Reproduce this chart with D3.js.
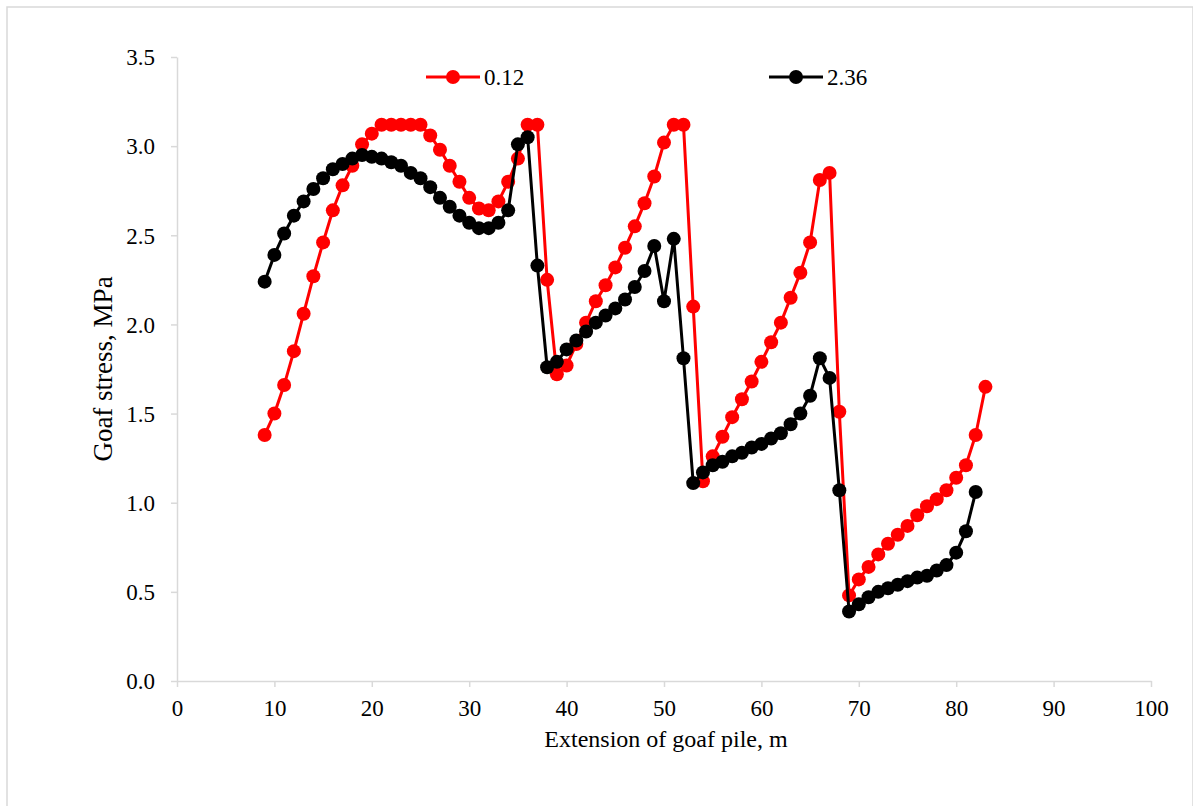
<!DOCTYPE html>
<html>
<head>
<meta charset="utf-8">
<script src="https://cdn.jsdelivr.net/npm/d3@7"></script>
<style>
  body { margin: 0; background: #fff; }
  svg { display: block; font-family: "Liberation Serif", "Times New Roman", serif; }
  .axis path, .axis line { stroke: #d9d9d9; stroke-width: 1.5; }
</style>
</head>
<body>
<svg id="chart" width="1193" height="806"></svg>
<script>
'use strict';

// Extension of goaf pile (m)
const xRed = d3.range(9, 84);
const xBlack = d3.range(9, 83);

// Goaf stress (MPa) for series "0.12", x = 9..83
const red = [
  1.38, 1.50, 1.66, 1.85, 2.06, 2.27, 2.46, 2.64, 2.78, 2.89,
  3.01, 3.07, 3.12, 3.12, 3.12, 3.12, 3.12, 3.06, 2.98, 2.89,
  2.80, 2.71, 2.65, 2.64, 2.69, 2.80, 2.93, 3.12, 3.12, 2.25,
  1.72, 1.77, 1.89, 2.01, 2.13, 2.22, 2.32, 2.43, 2.55, 2.68,
  2.83, 3.02, 3.12, 3.12, 2.10, 1.12, 1.26, 1.37, 1.48, 1.58,
  1.68, 1.79, 1.90, 2.01, 2.15, 2.29, 2.46, 2.81, 2.85, 1.51,
  0.48, 0.57, 0.64, 0.71, 0.77, 0.82, 0.87, 0.93, 0.98, 1.02,
  1.07, 1.14, 1.21, 1.38, 1.65
];

// Goaf stress (MPa) for series "2.36", x = 9..82
const black = [
  2.24, 2.39, 2.51, 2.61, 2.69, 2.76, 2.82, 2.87, 2.90, 2.93,
  2.95, 2.94, 2.93, 2.91, 2.89, 2.85, 2.82, 2.77, 2.71, 2.66,
  2.61, 2.57, 2.54, 2.54, 2.57, 2.64, 3.01, 3.05, 2.33, 1.76,
  1.79, 1.86, 1.91, 1.96, 2.01, 2.05, 2.09, 2.14, 2.21, 2.30,
  2.44, 2.13, 2.48, 1.81, 1.11, 1.17, 1.21, 1.23, 1.26, 1.28,
  1.31, 1.33, 1.36, 1.39, 1.44, 1.50, 1.60, 1.81, 1.70, 1.07,
  0.39, 0.43, 0.47, 0.50, 0.52, 0.54, 0.56, 0.58, 0.59, 0.62,
  0.65, 0.72, 0.84, 1.06
];

const seriesNames = ['0.12', '2.36'];
const seriesColors = ['#ff0000', '#000000'];
const xTicks = d3.range(0, 101, 10);
const yTicks = d3.range(0, 3.51, 0.5);

const serif = '"Liberation Serif", "Times New Roman", serif';
const svg = d3.select('#chart');

// outer frame
svg.append('rect')
    .attr('x', 7).attr('y', 7)
    .attr('width', 1186).attr('height', 812)
    .attr('fill', 'none')
    .attr('stroke', '#d9d9d9')
    .attr('stroke-width', 1.5);

var margin = {top: 57, right: 42, bottom: 125, left: 177},
    width = 1193 - margin.left - margin.right,
    height = 806 - margin.top - margin.bottom;

var x = d3.scaleLinear().domain([0, 100]).range([0, width]);
var y = d3.scaleLinear().domain([0, 3.5]).range([height, 0]);

var chart = svg.append('g')
    .attr('transform', 'translate(' + margin.left + ',' + margin.top + ')');

// X Axis
chart.append('g')
    .attr('class', 'x axis')
    .attr('transform', 'translate(0,' + height + ')')
    .call(d3.axisBottom(x).tickValues(xTicks).tickSize(6).tickSizeOuter(0).tickPadding(13))
    .attr('font-family', serif)
    .attr('font-size', 23)
    .selectAll('text')
        .attr('dy', '0.71em')
        .style('font-family', serif)
        .style('font-size', '23px')
        .attr('fill', '#000');

// Y Axis
chart.append('g')
    .attr('class', 'y axis')
    .call(d3.axisLeft(y).tickValues(yTicks).tickFormat(d3.format('.1f')).tickSize(6).tickSizeOuter(0).tickPadding(16))
    .attr('font-family', serif)
    .attr('font-size', 23)
    .selectAll('text')
        .attr('dy', '0.34em')
        .style('font-family', serif)
        .style('font-size', '23px')
        .attr('fill', '#000');

// Axis titles
chart.append('text')
    .attr('x', 489)
    .attr('y', height + 66)
    .attr('text-anchor', 'middle')
    .style('font-size', '24px')
    .text('Extension of goaf pile, m');

chart.append('text')
    .attr('transform', 'translate(-65,' + (height / 2) + ') rotate(-90)')
    .attr('text-anchor', 'middle')
    .style('font-size', '27px')
    .text('Goaf stress, MPa');

// Series
const series = [
    {xs: xRed, ys: red},
    {xs: xBlack, ys: black}
];

var line = d3.line()
    .x(function(d) { return x(d[0]); })
    .y(function(d) { return y(d[1]); });

series.forEach(function(s, i) {
    const pts = s.xs.map(function(v, j) { return [v, s.ys[j]]; });
    const g = chart.append('g');
    g.append('path')
        .datum(pts)
        .attr('fill', 'none')
        .attr('stroke', seriesColors[i])
        .attr('stroke-width', 3)
        .attr('d', line);
    g.selectAll('circle')
        .data(pts)
        .enter().append('circle')
        .attr('cx', function(d) { return x(d[0]); })
        .attr('cy', function(d) { return y(d[1]); })
        .attr('r', 7)
        .attr('fill', seriesColors[i]);
});

// Legend
const legendX = [426, 769];
seriesNames.forEach(function(name, i) {
    const lg = svg.append('g').attr('transform', 'translate(' + legendX[i] + ',77)');
    lg.append('line')
        .attr('x1', 0).attr('x2', 54)
        .attr('stroke', seriesColors[i])
        .attr('stroke-width', 3);
    lg.append('circle')
        .attr('cx', 27).attr('r', 7)
        .attr('fill', seriesColors[i]);
    lg.append('text')
        .attr('x', 58).attr('dy', '0.35em')
        .style('font-size', '23px')
        .text(name);
});
</script>
</body>
</html>
